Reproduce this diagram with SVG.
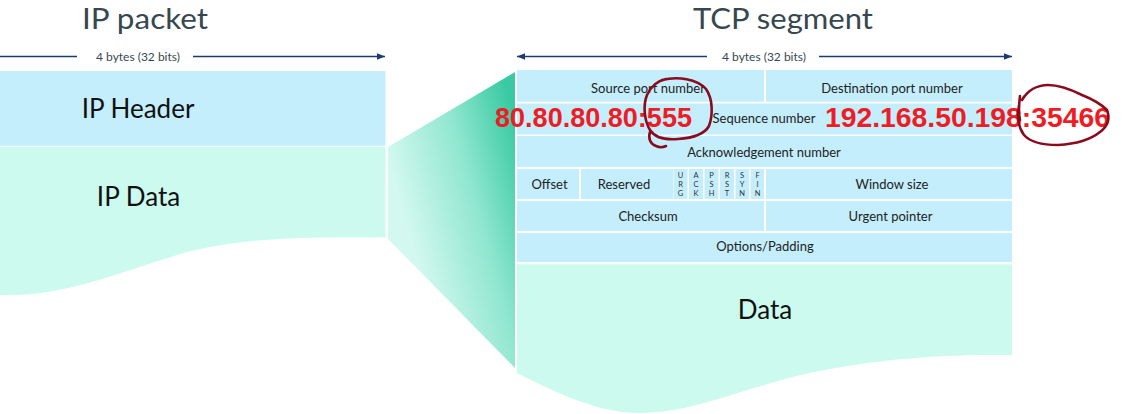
<svg xmlns="http://www.w3.org/2000/svg" width="1141" height="414" viewBox="0 0 1141 414">
<style>
.title{font-family:Lato,"Open Sans",sans-serif;font-size:29px;fill:#37474f}
.dim{font-family:Lato,"Open Sans",sans-serif;font-size:12px;fill:#37474f;text-anchor:middle}
.big{font-family:Lato,"Open Sans",sans-serif;font-size:26px;fill:#111;text-anchor:middle}
.cell{font-family:Lato,"Open Sans",sans-serif;font-size:13px;fill:#222;text-anchor:middle}
.flag{font-family:Lato,"Open Sans",sans-serif;font-size:7.5px;fill:#333;text-anchor:middle}
.hdr{fill:#c5eefc}
.dat{fill:#ccfaee}
.red{font-family:"Liberation Sans",Arial,sans-serif;font-weight:bold;font-size:27px;fill:#ee1c25}
.ink{fill:none;stroke:#8b0b1e;stroke-width:2.6;stroke-linecap:round;stroke-linejoin:round}
.dl{stroke:#1e3a6e;stroke-width:1.3;fill:none}
</style>
<defs>
<marker id="ah" viewBox="0 0 10 10" refX="10" refY="5" markerWidth="8" markerHeight="8" markerUnits="userSpaceOnUse" orient="auto-start-reverse">
<path d="M0,1 L10,5 L0,9 Z" fill="#1e3a6e"/>
</marker>
<linearGradient id="fan" gradientUnits="userSpaceOnUse" x1="515" y1="120" x2="388" y2="155">
<stop offset="0" stop-color="#3acaa3"/>
<stop offset="0.45" stop-color="#8fe6cf"/>
<stop offset="1" stop-color="#d2f8ef"/>
</linearGradient>
</defs>

<g id="ip-packet-title"><text class="title" x="82" y="29" textLength="126" lengthAdjust="spacingAndGlyphs">IP packet</text></g>
<g id="tcp-segment-title"><text class="title" x="693" y="29" textLength="180" lengthAdjust="spacingAndGlyphs">TCP segment</text></g>

<g id="connectors">
<line class="dl" x1="0" y1="56.5" x2="77" y2="56.5"/>
<line class="dl" x1="193" y1="56.5" x2="385" y2="56.5" marker-end="url(#ah)"/>
<text class="dim" x="138" y="60.5">4 bytes (32 bits)</text>
<line class="dl" x1="707" y1="56.5" x2="517" y2="56.5" marker-end="url(#ah)"/>
<line class="dl" x1="819" y1="56.5" x2="1012" y2="56.5" marker-end="url(#ah)"/>
<text class="dim" x="764" y="60.5">4 bytes (32 bits)</text>
</g>

<g id="ip-header">
<rect class="hdr" x="0" y="71" width="385.5" height="74.7"/>
<text class="big" x="138" y="118">IP Header</text>
</g>
<g id="ip-data">
<path class="dat" d="M0,146.7 H385.5 V237.5 C300,236 230,239 180,254 C110,276 60,297 0,295 Z"/>
<text class="big" x="138.5" y="206">IP Data</text>
</g>

<g id="fan">
<path d="M388,147 L515,72 L515,368 L388,239 Z" fill="url(#fan)"/>
</g>

<g id="tcp-header">
<rect class="hdr" x="517" y="70" width="247" height="31.7"/>
<rect class="hdr" x="766" y="70" width="246" height="31.7"/>
<text class="cell" x="648" y="92.5">Source port number</text>
<text class="cell" x="892" y="92.5">Destination port number</text>
<rect class="hdr" x="517" y="103.5" width="495" height="31"/>
<text class="cell" x="764" y="123">Sequence number</text>
<rect class="hdr" x="517" y="136" width="495" height="31"/>
<text class="cell" x="764" y="157">Acknowledgement number</text>
<rect class="hdr" x="517" y="169" width="62" height="30"/>
<rect class="hdr" x="581" y="169" width="92" height="30"/>
<rect class="hdr" x="673.5" y="169" width="14" height="30"/>
<rect class="hdr" x="689" y="169" width="14" height="30"/>
<rect class="hdr" x="704.5" y="169" width="14" height="30"/>
<rect class="hdr" x="720" y="169" width="14" height="30"/>
<rect class="hdr" x="735.5" y="169" width="13.5" height="30"/>
<rect class="hdr" x="750.5" y="169" width="13.5" height="30"/>
<rect class="hdr" x="766" y="169" width="246" height="30"/>
<text class="cell" x="549.5" y="189">Offset</text>
<text class="cell" x="624" y="189">Reserved</text>
<text class="flag" x="680.5" y="178">U</text><text class="flag" x="680.5" y="187">R</text><text class="flag" x="680.5" y="196">G</text>
<text class="flag" x="696" y="178">A</text><text class="flag" x="696" y="187">C</text><text class="flag" x="696" y="196">K</text>
<text class="flag" x="711.5" y="178">P</text><text class="flag" x="711.5" y="187">S</text><text class="flag" x="711.5" y="196">H</text>
<text class="flag" x="727" y="178">R</text><text class="flag" x="727" y="187">S</text><text class="flag" x="727" y="196">T</text>
<text class="flag" x="742" y="178">S</text><text class="flag" x="742" y="187">Y</text><text class="flag" x="742" y="196">N</text>
<text class="flag" x="757.5" y="178">F</text><text class="flag" x="757.5" y="187">I</text><text class="flag" x="757.5" y="196">N</text>
<text class="cell" x="892" y="189">Window size</text>
<rect class="hdr" x="517" y="201" width="247" height="30"/>
<rect class="hdr" x="766" y="201" width="246" height="30"/>
<text class="cell" x="648" y="221">Checksum</text>
<text class="cell" x="890.5" y="221">Urgent pointer</text>
<rect class="hdr" x="517" y="233" width="495" height="29"/>
<text class="cell" x="765" y="251">Options/Padding</text>
</g>

<g id="tcp-data">
<path class="dat" d="M517,264.3 H1012 V355 C930,354 870,360 800,375 C740,390 690,413 640,413 C600,413 560,395 517,373 Z"/>
<text class="big" x="765" y="319">Data</text>
</g>

<g id="annotations">
<text class="red" x="495" y="127" textLength="197" lengthAdjust="spacingAndGlyphs">80.80.80.80:555</text>
<text class="red" x="825" y="127" textLength="285" lengthAdjust="spacingAndGlyphs">192.168.50.198:35466</text>
<path class="ink" d="M662,80 C678,76 697,79 706,89 C713,99 713,115 709,126 C704,135 692,138 678,139 C666,140 655,138 650,130 C644,120 643,105 647,95 C651,86 657,81 666,79 M650,132 C648,138 650,144 656,146 C660,148 664,147 666,146"/>
<path class="ink" d="M1020,96 C1019,104 1018,112 1020,120 M1022,100 C1028,90 1038,85 1048,85 C1060,85 1072,90 1082,95 C1092,99 1100,103 1107,110 C1110,118 1108,126 1100,132 C1090,140 1075,144 1058,145 C1042,145 1030,142 1024,135 C1018,127 1017,115 1019,105"/>
</g>
</svg>
